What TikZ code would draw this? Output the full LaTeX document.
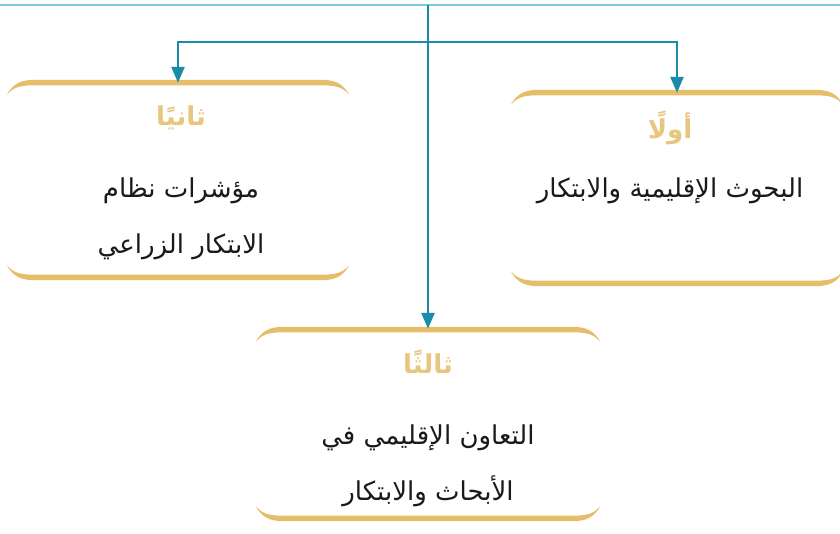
\documentclass[tikz,border=0pt]{standalone}
\usepackage{fontspec}
\newfontfamily\arabicfont[Script=Arabic]{DejaVu Sans}
\TeXXeTstate=1
\usetikzlibrary{calc,arrows.meta}
\definecolor{goldline}{HTML}{E6BE6A}
\definecolor{goldtext}{HTML}{E9C67E}
\definecolor{connblue}{HTML}{1A8CAA}
\definecolor{topblue}{HTML}{7CC8DC}
\definecolor{ink}{HTML}{1A1A1A}
\newcommand\goldframe[1]{%
  \fill[goldline] ($(#1.north west)+(0,15)$) .. controls +(6,-11) and +(-14,0) .. ($(#1.north west)+(28,0)$)
    -- ($(#1.north east)+(-28,0)$) .. controls +(14,0) and +(-6,-11) .. ($(#1.north east)+(0,15)$)
    .. controls +(-7,-8) and +(14,0) .. ($(#1.north east)+(-28,5.5)$)
    -- ($(#1.north west)+(28,5.5)$) .. controls +(-14,0) and +(7,-8) .. ($(#1.north west)+(0,15)$) -- cycle;
  \fill[goldline] ($(#1.south west)+(0,-15)$) .. controls +(6,11) and +(-14,0) .. ($(#1.south west)+(28,0)$)
    -- ($(#1.south east)+(-28,0)$) .. controls +(14,0) and +(-6,11) .. ($(#1.south east)+(0,-15)$)
    .. controls +(-7,8) and +(14,0) .. ($(#1.south east)+(-28,-5.5)$)
    -- ($(#1.south west)+(28,-5.5)$) .. controls +(-14,0) and +(7,8) .. ($(#1.south west)+(0,-15)$) -- cycle;
}
\begin{document}
\begin{tikzpicture}[x=1pt,y=-1pt,
  boxarea/.style={draw=none,inner sep=0pt,minimum width=#1},
  heading/.style={text=goldtext,font=\arabicfont\bfseries\fontsize{26}{30}\selectfont},
  body/.style={text=ink,align=center,font=\arabicfont\fontsize{26}{56}\selectfont},
  conn/.style={draw=connblue,line width=2.6pt,-{Triangle[length=16pt,width=13pt]}},
]
\useasboundingbox[fill=white] (0,0) rectangle (840,534);
% box areas
\node[boxarea=342,minimum height=200pt] (leftbox) at (178,180) {};
\node[boxarea=332,minimum height=196pt] (rightbox) at (677,188) {};
\node[boxarea=344,minimum height=194pt] (bottombox) at (428,424) {};
\goldframe{leftbox}
\goldframe{rightbox}
\goldframe{bottombox}
% top line
\coordinate (tl) at (0,5);
\coordinate (tr) at (840,5);
\draw[topblue,line width=2pt] (tl) -- (tr);
% connectors
\coordinate (top) at (428,5);
\coordinate (hub) at (428,42);
\draw[conn] (top) -- ([yshift=-2pt]bottombox.north);
\draw[conn] (hub) -| ([yshift=-3pt]leftbox.north);
\draw[conn] (hub) -| ([yshift=-3pt]rightbox.north);
% texts
\node[heading] (l2) at (181,118) {\beginR ثانيًا\endR};
\node[body] (t2) at (181,219) {\beginR مؤشرات نظام\endR\\\beginR الابتكار الزراعي\endR};
\node[heading] (l1) at (670,128) {\beginR أولًا\endR};
\node[body] (t1) at (670,191) {\beginR البحوث الإقليمية والابتكار\endR};
\node[heading] (l3) at (428,362) {\beginR ثالثًا\endR};
\node[body] (t3) at (428,466) {\beginR التعاون الإقليمي في\endR\\\beginR الأبحاث والابتكار\endR};
\end{tikzpicture}
\end{document}
